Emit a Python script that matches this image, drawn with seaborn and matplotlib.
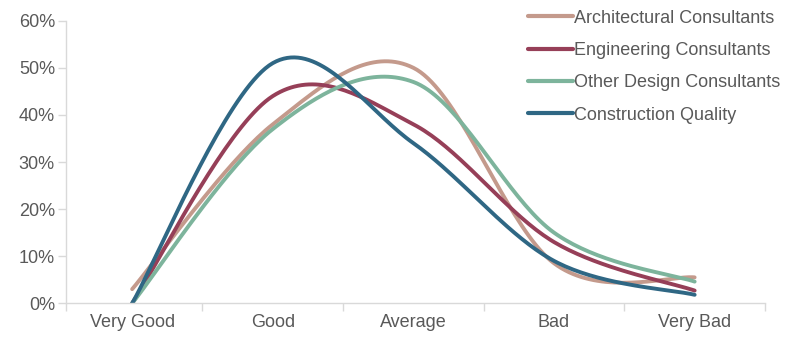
import numpy as np
import pandas as pd
import seaborn as sns
import matplotlib.pyplot as plt
from matplotlib.ticker import PercentFormatter, FixedLocator

# data (share of respondents)
categories = ['Very Good', 'Good', 'Average', 'Bad', 'Very Bad']
architectural = [0.03, 0.38, 0.50, 0.085, 0.055]
engineering = [0.00, 0.44, 0.38, 0.13, 0.027]
other_design = [0.00, 0.37, 0.47, 0.15, 0.046]
construction = [0.00, 0.51, 0.34, 0.09, 0.018]

series = {
    'Architectural Consultants': architectural,
    'Engineering Consultants': engineering,
    'Other Design Consultants': other_design,
    'Construction Quality': construction,
}
colors = ['#C49A8C', '#963F58', '#7DB49C', '#2F6784']


def smooth(xs, ys, n=40):
    # Catmull-Rom curve through the points (like Excel "smoothed line")
    p = np.column_stack([xs, ys]).astype(float)
    p = np.vstack([p[0], p, p[-1]])
    out = []
    for i in range(1, len(p) - 2):
        p0, p1, p2, p3 = p[i - 1], p[i], p[i + 1], p[i + 2]
        t = np.linspace(0, 1, n)[:, None]
        seg = 0.5 * ((2 * p1) + (-p0 + p2) * t + (2 * p0 - 5 * p1 + 4 * p2 - p3) * t ** 2
                     + (-p0 + 3 * p1 - 3 * p2 + p3) * t ** 3)
        out.append(seg if i == 1 else seg[1:])
    out = np.vstack(out)
    return out[:, 0], out[:, 1]


sns.set_style('white')
plt.rcParams['font.family'] = ['Liberation Sans', 'DejaVu Sans']

fig, ax = plt.subplots(figsize=(7.96, 3.4), dpi=100)
fig.subplots_adjust(left=0.083, right=0.961, bottom=0.108, top=0.939)

xpos = np.arange(len(categories))
frames = []
for name, vals in series.items():
    sx, sy = smooth(xpos, vals)
    frames.append(pd.DataFrame({'x': sx, 'y': sy, 'series': name}))
df = pd.concat(frames, ignore_index=True)

sns.lineplot(data=df, x='x', y='y', hue='series', palette=colors, sort=False,
             linewidth=2.8, ax=ax, estimator=None)

x0 = -0.47
ax.set_xlim(x0, len(categories) - 0.5)
ax.set_ylim(0, 0.6)
ax.yaxis.set_major_locator(FixedLocator(np.arange(0, 0.61, 0.1)))
ax.yaxis.set_major_formatter(PercentFormatter(1.0, decimals=0))
ax.set_xticks(xpos)
ax.set_xticklabels(categories)
ax.set_xticks([x0] + list(np.arange(0.5, len(categories), 1.0)), minor=True)
ax.tick_params(axis='x', which='major', bottom=False, length=0, pad=8, labelsize=13, labelcolor='#595959')
ax.tick_params(axis='x', which='minor', bottom=True, length=6, color='#D9D9D9', width=1, direction='out')
ax.tick_params(axis='y', left=True, length=6, color='#D9D9D9', width=1, labelsize=13,
               labelcolor='#595959', pad=2, direction='out')
ax.set_xlabel('')
ax.set_ylabel('')

for side in ['top', 'right']:
    ax.spines[side].set_visible(False)
for side in ['left', 'bottom']:
    ax.spines[side].set_color('#D9D9D9')
    ax.spines[side].set_linewidth(1)

leg = ax.legend(loc='upper left', bbox_to_anchor=(0.65, 1.065), frameon=False,
                fontsize=13, handlelength=2.5, handletextpad=0.05, labelspacing=0.85,
                borderaxespad=0)
for t in leg.get_texts():
    t.set_color('#595959')
for h in leg.get_lines():
    h.set_linewidth(3)

fig.savefig('out.png', dpi=100)
